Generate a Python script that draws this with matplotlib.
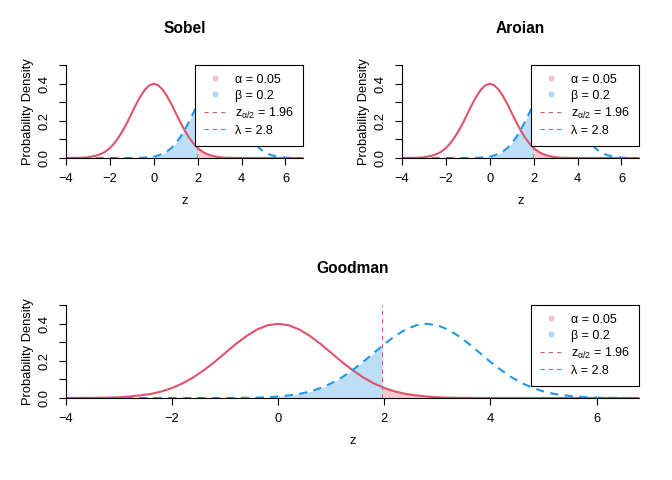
import numpy as np
import matplotlib
matplotlib.use('Agg')
import matplotlib.pyplot as plt
from matplotlib.lines import Line2D

plt.rcParams['font.family'] = ['Liberation Sans', 'DejaVu Sans']
plt.rcParams['mathtext.fontset'] = 'custom'
plt.rcParams['mathtext.rm'] = 'Liberation Sans'
plt.rcParams['mathtext.it'] = 'Liberation Sans'
plt.rcParams['mathtext.default'] = 'regular'

# values, z from -4 to 7 by 0.2
z = np.round(np.arange(-4.0, 7.01, 0.2), 1)
null_density = [0.000, 0.000, 0.001, 0.001, 0.002, 0.004, 0.008, 0.014, 0.022, 0.035,
                0.054, 0.079, 0.111, 0.150, 0.194, 0.242, 0.290, 0.333, 0.368, 0.391,
                0.399, 0.391, 0.368, 0.333, 0.290, 0.242, 0.194, 0.150, 0.111, 0.079,
                0.054, 0.035, 0.022, 0.014, 0.008, 0.004, 0.002, 0.001, 0.001, 0.000,
                0.000, 0.000, 0.000, 0.000, 0.000, 0.000, 0.000, 0.000, 0.000, 0.000,
                0.000, 0.000, 0.000, 0.000, 0.000, 0.000]
alt_density = [0.000, 0.000, 0.000, 0.000, 0.000, 0.000, 0.000, 0.000, 0.000, 0.000,
               0.000, 0.000, 0.000, 0.000, 0.000, 0.000, 0.001, 0.001, 0.002, 0.004,
               0.008, 0.014, 0.022, 0.035, 0.054, 0.079, 0.111, 0.150, 0.194, 0.242,
               0.290, 0.333, 0.368, 0.391, 0.399, 0.391, 0.368, 0.333, 0.290, 0.242,
               0.194, 0.150, 0.111, 0.079, 0.054, 0.035, 0.022, 0.014, 0.008, 0.004,
               0.002, 0.001, 0.001, 0.000, 0.000, 0.000]
z_crit = 1.96
panels = ['Sobel', 'Aroian', 'Goodman']
legend_labels = ['α = 0.05', 'β = 0.2', 'z$_{α/2}$ = 1.96', 'λ = 2.8']
xticks = [-4, -2, 0, 2, 4, 6]

red = '#DF536B'
blue = '#2297E6'

# insert the critical value so the shaded areas stop exactly there
zz = np.sort(np.append(z, z_crit))
y0 = np.interp(zz, z, null_density)
y1 = np.interp(zz, z, alt_density)

W, H = 672, 480
fig = plt.figure(figsize=(W / 100, H / 100), dpi=100)
boxes = [(66, 65, 237, 93), (402, 65, 237, 93), (66, 305, 573, 93)]

for name, (l, t, w, h) in zip(panels, boxes):
    ax = fig.add_axes([l / W, 1 - (t + h) / H, w / W, h / H])
    ax.fill_between(zz, 0, y1, where=zz <= z_crit, color=blue, alpha=0.3, lw=0)
    ax.fill_between(zz, 0, y0, where=zz >= z_crit, color=red, alpha=0.3, lw=0)
    ax.plot(z, null_density, color=red, lw=1.5)
    ax.plot(z, alt_density, color=blue, lw=1.5, ls=(0, (4, 3)))
    ax.plot([z_crit, z_crit], [0, 0.5], color=red, lw=0.75, ls=(0, (4, 4)))
    ax.set_xlim(-4, 6.8)
    ax.set_ylim(0, 0.5)
    for s in ['top', 'right']:
        ax.spines[s].set_visible(False)
    ax.spines['left'].set_linewidth(0.8)
    ax.spines['bottom'].set_linewidth(0.8)
    ax.set_xticks(xticks)
    ax.set_yticks([0, 0.1, 0.2, 0.3, 0.4, 0.5])
    ax.set_yticklabels(['0.0', '', '0.2', '', '0.4', ''], rotation=90, va='center')
    ax.tick_params(length=5, width=0.8, labelsize=9.3, pad=6)
    ax.set_title(name, fontsize=11.2, fontweight='bold', pad=23)
    ax.set_xlabel('z', fontsize=9.3)
    ax.xaxis.set_label_coords(0.5, -37 / h)
    ax.set_ylabel('Probability Density', fontsize=9.3)
    ax.yaxis.set_label_coords(-32 / w, 0.5)
    handles = [Line2D([], [], ls='', marker='o', ms=4.5, color=red, alpha=0.35, mec='none'),
               Line2D([], [], ls='', marker='o', ms=4.5, color=blue, alpha=0.35, mec='none'),
               Line2D([], [], color=red, lw=0.75, ls=(0, (4, 4))),
               Line2D([], [], color=blue, lw=0.75, ls=(0, (4, 4)))]
    leg = ax.legend(handles, legend_labels, loc='upper right', bbox_to_anchor=(1, 1),
                    borderaxespad=0, fontsize=9, frameon=True, fancybox=False,
                    framealpha=1, edgecolor='black', borderpad=0.7, labelspacing=0.32,
                    handlelength=1.7, handletextpad=0.8)
    leg.get_frame().set_linewidth(0.8)

plt.savefig('out.png', dpi=100)
